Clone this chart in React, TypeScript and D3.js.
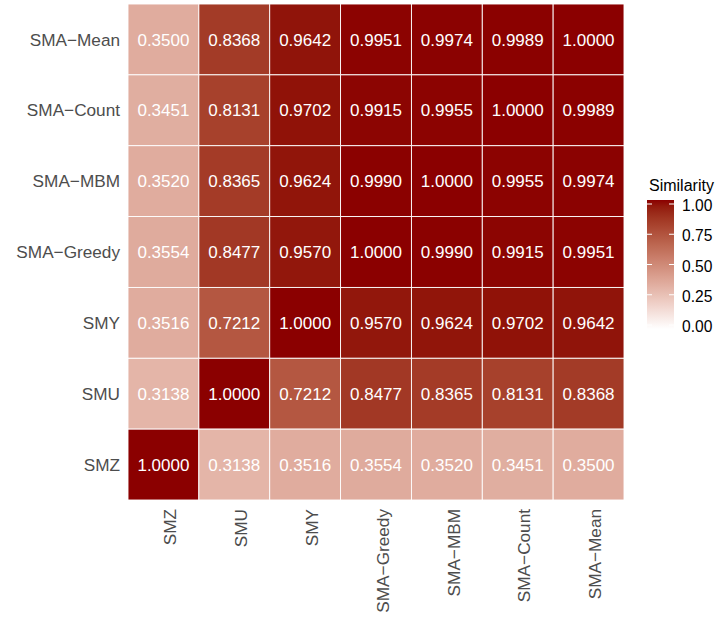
import * as d3 from 'd3'

// heatmap of pairwise similarity
const colLabels = ['SMZ', 'SMU', 'SMY', 'SMA−Greedy', 'SMA−MBM', 'SMA−Count', 'SMA−Mean']
const rowLabels = ['SMA−Mean', 'SMA−Count', 'SMA−MBM', 'SMA−Greedy', 'SMY', 'SMU', 'SMZ']

// values by row (top to bottom), columns in colLabels order
const rowSMAMean = [0.35, 0.8368, 0.9642, 0.9951, 0.9974, 0.9989, 1.0]
const rowSMACount = [0.3451, 0.8131, 0.9702, 0.9915, 0.9955, 1.0, 0.9989]
const rowSMAMBM = [0.352, 0.8365, 0.9624, 0.999, 1.0, 0.9955, 0.9974]
const rowSMAGreedy = [0.3554, 0.8477, 0.957, 1.0, 0.999, 0.9915, 0.9951]
const rowSMY = [0.3516, 0.7212, 1.0, 0.957, 0.9624, 0.9702, 0.9642]
const rowSMU = [0.3138, 1.0, 0.7212, 0.8477, 0.8365, 0.8131, 0.8368]
const rowSMZ = [1.0, 0.3138, 0.3516, 0.3554, 0.352, 0.3451, 0.35]
const matrix = [rowSMAMean, rowSMACount, rowSMAMBM, rowSMAGreedy, rowSMY, rowSMU, rowSMZ]

const legendTicks = [0, 0.25, 0.5, 0.75, 1]

const W = 719
const H = 617
const font = 'Liberation Sans, Arial, Helvetica, sans-serif'

export default function App() {
  const x = d3.scaleBand<string>().domain(colLabels).range([128, 624]).padding(0)
  const y = d3.scaleBand<string>().domain(rowLabels).range([4, 500]).padding(0)
  const color = d3.scaleLinear<string>().domain([0, 1]).range(['#ffffff', '#8b0000'])
    .interpolate(d3.interpolateLab)

  const cells = matrix.flatMap((row, i) =>
    row.map((v, j) => ({ r: rowLabels[i], c: colLabels[j], v })))

  // legend
  const barX = 647
  const barW = 27
  const barTop = 200
  const barBot = 329
  const ly = d3.scaleLinear().domain([0, 1]).range([325, 204])
  const stops = d3.range(0, 1.0001, 0.05)

  return (
    <svg width={W} height={H} style={{ position: 'absolute', left: 0, top: 0, background: '#fff' }}
      fontFamily={font}>
      <defs>
        <linearGradient id="simGrad" x1="0" y1="1" x2="0" y2="0">
          {stops.map(s => (
            <stop key={s} offset={s} stopColor={color(s)} />
          ))}
        </linearGradient>
      </defs>

      {cells.map(d => (
        <g key={d.r + d.c}>
          <rect x={x(d.c)} y={y(d.r)} width={x.bandwidth()} height={y.bandwidth()}
            fill={color(d.v)} stroke="#fff" strokeWidth={0.9} />
          <text x={x(d.c)! + x.bandwidth() / 2} y={y(d.r)! + y.bandwidth() / 2}
            dy="0.36em" textAnchor="middle" fill="#fff" fontSize={17}>
            {d.v.toFixed(4)}
          </text>
        </g>
      ))}

      {rowLabels.map(r => (
        <text key={r} x={120} y={y(r)! + y.bandwidth() / 2} dy="0.36em" textAnchor="end"
          fill="#4d4d4d" fontSize={17.2}>{r}</text>
      ))}

      {colLabels.map(c => (
        <text key={c} transform={`translate(${x(c)! + x.bandwidth() / 2},509) rotate(-90)`}
          dy="0.74em" textAnchor="end" fill="#4d4d4d" fontSize={17.2}>{c}</text>
      ))}

      <text x={649} y={191} fontSize={16} fill="#000">Similarity</text>
      <rect x={barX} y={barTop} width={barW} height={barBot - barTop} fill="url(#simGrad)" />
      {legendTicks.map(t => (
        <g key={t}>
          <line x1={barX} x2={barX + 5} y1={ly(t)} y2={ly(t)} stroke="#fff" strokeWidth={1} />
          <line x1={barX + barW - 5} x2={barX + barW} y1={ly(t)} y2={ly(t)} stroke="#fff" strokeWidth={1} />
          <text x={682} y={ly(t)} dy="0.45em" fontSize={15.6} fill="#000">{t.toFixed(2)}</text>
        </g>
      ))}
    </svg>
  )
}
